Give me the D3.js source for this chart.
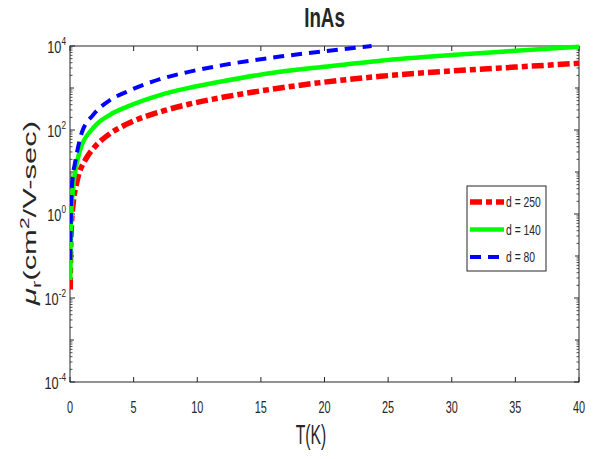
<!DOCTYPE html>
<html>
<head>
<meta charset="utf-8">
<script src="https://cdn.jsdelivr.net/npm/d3@7"></script>
<style>
  body { margin: 0; padding: 0; background: #fff; }
  text { font-family: "Liberation Sans", Arial, sans-serif; fill: #262626; }
</style>
</head>
<body>
<div id="chart"></div>
<script>
// values (T in K, mobility in cm^2/V-sec)
const tRed   = [0.02, 0.05, 0.1, 0.26, 0.52, 1.31, 1.83, 3.14, 4.45, 7.07, 9.17, 12, 16.5, 20, 24.4, 30, 35, 40];
const muRed  = [0.016, 0.14, 0.45, 1.9, 5.4, 22, 36, 82, 138, 270, 400, 600, 1000, 1380, 1900, 2550, 3150, 3870];
const tGreen  = [0.02, 0.05, 0.1, 0.2, 0.39, 0.79, 1.83, 3.14, 4.45, 7.07, 9.17, 12, 16.5, 20, 24.4, 30, 35, 40];
const muGreen = [0.027, 0.25, 0.9, 3, 9.5, 33, 112, 230, 355, 680, 980, 1450, 2440, 3200, 4470, 6100, 7700, 9600];
const tBlue  = [0.02, 0.05, 0.1, 0.2, 0.39, 0.92, 1.83, 3.14, 4.45, 7.07, 9.17, 12, 16.5, 20, 23.7];
const muBlue = [0.08, 0.4, 2, 7, 16, 85, 230, 516, 810, 1620, 2360, 3500, 5600, 7500, 10000];
const legendLabels = ['d = 250', 'd = 140', 'd = 80'];
const xTicks = [0, 5, 10, 15, 20, 25, 30, 35, 40];
const yExps = [-4, -2, 0, 2, 4];

const width = 593, height = 459;
const margin = { left: 70, right: 14, top: 46, bottom: 77 };

const svg = d3.select('#chart').append('svg').attr('width', width).attr('height', height);

const x = d3.scaleLinear().domain([0, 40]).range([margin.left, width - margin.right]);
const y = d3.scaleLog().domain([1e-4, 1e4]).range([height - margin.bottom, margin.top]);

const x0 = x.range()[0], x1 = x.range()[1], y0 = y.range()[0], y1 = y.range()[1];

// the figure looks squeezed sideways, so text gets a horizontal scale
function addText(px, py, k, extra) {
  return svg.append('text').attr('transform', 'translate(' + px + ',' + py + ') scale(' + k + ',1)' + (extra || ''));
}

const axisColor = '#262626';
svg.append('rect').attr('x', x0).attr('y', y1).attr('width', x1 - x0).attr('height', y0 - y1)
  .attr('fill', 'none').attr('stroke', axisColor).attr('stroke-width', 1);

// x ticks (bottom and top, inward)
xTicks.forEach(function (t) {
  svg.append('line').attr('x1', x(t)).attr('x2', x(t)).attr('y1', y0).attr('y2', y0 - 5).attr('stroke', axisColor);
  svg.append('line').attr('x1', x(t)).attr('x2', x(t)).attr('y1', y1).attr('y2', y1 + 5).attr('stroke', axisColor);
  addText(x(t), y0 + 31, 0.68).attr('text-anchor', 'middle').attr('font-size', 16).text(t);
});

// y ticks: majors at decades, minors 2..9
for (let e = -4; e <= 4; e++) {
  const major = yExps.includes(e) ? 5 : 4;
  [x0, x1].forEach(function (xx, side) {
    const dir = side === 0 ? 1 : -1;
    svg.append('line').attr('x1', xx).attr('x2', xx + dir * major).attr('y1', y(Math.pow(10, e))).attr('y2', y(Math.pow(10, e)))
      .attr('stroke', axisColor);
    if (e < 4) {
      for (let m = 2; m <= 9; m++) {
        const v = m * Math.pow(10, e);
        svg.append('line').attr('x1', xx).attr('x2', xx + dir * 2.5).attr('y1', y(v)).attr('y2', y(v))
          .attr('stroke', axisColor).attr('stroke-width', 0.8);
      }
    }
  });
}
yExps.forEach(function (e) {
  const t = addText(x0 - 4, y(Math.pow(10, e)) + 7, 0.75).attr('text-anchor', 'end').attr('font-size', 17);
  t.append('tspan').text('10');
  t.append('tspan').attr('dy', -8).attr('font-size', 11).text(e);
});

// series
const line = d3.line().x(d => x(d[0])).y(d => y(d[1])).curve(d3.curveMonotoneX);
const series = [
  { t: tRed, mu: muRed, color: '#ff0000', w: 5.5, dash: '12,4,6,4' },
  { t: tGreen, mu: muGreen, color: '#00ff00', w: 4.5, dash: null },
  { t: tBlue, mu: muBlue, color: '#0000ff', w: 4, dash: '11,7' }
];
svg.append('clipPath').attr('id', 'clip').append('rect')
  .attr('x', x0).attr('y', y1 - 2).attr('width', x1 - x0 + 3).attr('height', y0 - y1 + 2);
series.forEach(function (s) {
  svg.append('path').datum(d3.zip(s.t, s.mu))
    .attr('d', line).attr('fill', 'none').attr('stroke', s.color).attr('stroke-width', s.w)
    .attr('stroke-dasharray', s.dash).attr('clip-path', 'url(#clip)');
});

// legend
const lg = svg.append('g').attr('transform', 'translate(467,186)');
lg.append('rect').attr('width', 79).attr('height', 85).attr('fill', '#fff').attr('stroke', axisColor);
series.forEach(function (s, i) {
  const yy = 16 + i * 27.5;
  lg.append('line').attr('x1', 3).attr('x2', 37).attr('y1', yy).attr('y2', yy)
    .attr('stroke', s.color).attr('stroke-width', s.w).attr('stroke-dasharray', s.dash);
  lg.append('text').attr('transform', 'translate(39,' + (yy + 5) + ') scale(0.74,1)')
    .attr('font-size', 14).text(legendLabels[i]);
});

// title and labels
addText((x0 + x1) / 2, 27, 0.67).attr('text-anchor', 'middle')
  .attr('font-size', 28).attr('font-weight', 'bold').attr('fill', '#000').text('InAs');
addText(311, 444, 0.58).attr('text-anchor', 'middle').attr('font-size', 27).text('T(K)');
const yl = addText(36, 213, 0.6, ' rotate(-90)').attr('text-anchor', 'middle').attr('font-size', 31).attr('fill', '#333');
yl.append('tspan').attr('font-style', 'italic').text('\u03bc');
yl.append('tspan').attr('dy', 8).attr('font-size', 22).text('r');
yl.append('tspan').attr('dy', -8).text('(cm');
yl.append('tspan').attr('dy', -12).attr('font-size', 21).text('2');
yl.append('tspan').attr('dy', 12).text('/V-sec)');
</script>
</body>
</html>
